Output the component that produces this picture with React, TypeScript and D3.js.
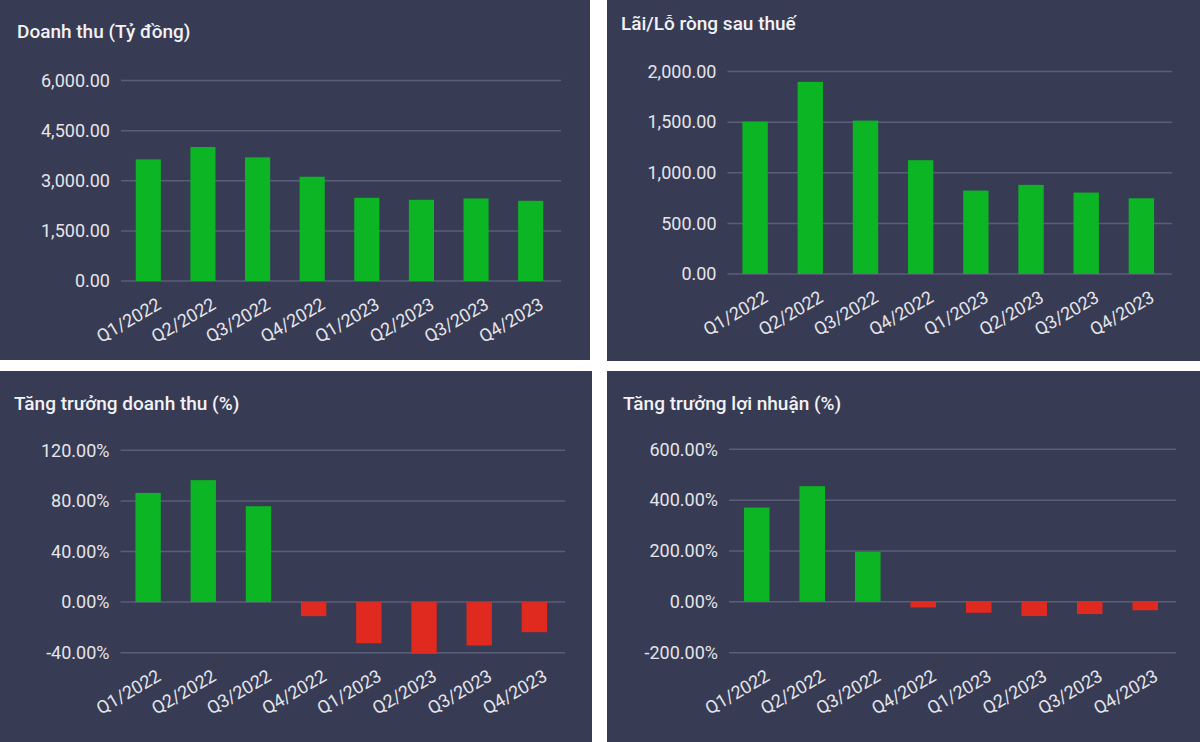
import { useRef, useEffect } from "react";
import * as d3 from "d3";

const quarters = ["Q1/2022", "Q2/2022", "Q3/2022", "Q4/2022", "Q1/2023", "Q2/2023", "Q3/2023", "Q4/2023"];

// Doanh thu (Tỷ đồng)
const revenue = [3640, 4010, 3700, 3120, 2490, 2430, 2470, 2400];
const revenueTicks = [0, 1500, 3000, 4500, 6000];

// Lãi/Lỗ ròng sau thuế
const netProfit = [1505, 1898, 1515, 1124, 824, 880, 804, 748];
const netProfitTicks = [0, 500, 1000, 1500, 2000];

// Tăng trưởng doanh thu (%)
const revenueGrowth = [86.3, 96.4, 75.8, -11.1, -32.5, -40.9, -34.3, -23.8];
const revenueGrowthTicks = [-40, 0, 40, 80, 120];

// Tăng trưởng lợi nhuận (%)
const profitGrowth = [371, 455, 197, -22, -43, -56, -48, -33];
const profitGrowthTicks = [-200, 0, 200, 400, 600];

const BG = "#383b54";
const GRID = "#5a5e78";
const GREEN = "#0bb523";
const RED = "#e02a1f";
const TEXT = "#e4e5ea";
const FONT = "Roboto, 'Noto Sans', sans-serif";

// d3 uses a unicode minus, the original shows a plain hyphen
const fmtNum = (v) => d3.format(",.2f")(v).replace("−", "-");
const fmtPct = (v) => d3.format(".2f")(v).replace("−", "-") + "%";

// panel boxes and plot areas (pixels)
const panels = [
  {
    title: "Doanh thu (Tỷ đồng)",
    values: revenue,
    ticks: revenueTicks,
    fmt: fmtNum,
    box: [0, 0, 590, 360],
    titlePos: [17, 38],
    xr: [121, 561],
    yr: [281, 80.5],
  },
  {
    title: "Lãi/Lỗ ròng sau thuế",
    values: netProfit,
    ticks: netProfitTicks,
    fmt: fmtNum,
    box: [607, 0, 593, 361],
    titlePos: [621, 30],
    xr: [727.5, 1172],
    yr: [274, 71.5],
  },
  {
    title: "Tăng trưởng doanh thu (%)",
    values: revenueGrowth,
    ticks: revenueGrowthTicks,
    fmt: fmtPct,
    box: [0, 371, 592, 371],
    titlePos: [14, 410],
    xr: [120.5, 565],
    yr: [652.7, 450.3],
  },
  {
    title: "Tăng trưởng lợi nhuận (%)",
    values: profitGrowth,
    ticks: profitGrowthTicks,
    fmt: fmtPct,
    box: [607, 371, 593, 371],
    titlePos: [623, 410],
    xr: [729, 1176],
    yr: [652.7, 449.3],
  },
];

const App = () => {
  const svgRef = useRef(null);

  useEffect(() => {
    const svg = d3.select(svgRef.current);
    svg.selectAll("*").remove();

    svg.append("rect").attr("width", 1200).attr("height", 742).attr("fill", "#ffffff");

    panels.forEach((p) => {
      const [bx, by, bw, bh] = p.box;
      svg.append("rect")
        .attr("x", bx).attr("y", by).attr("width", bw).attr("height", bh)
        .attr("fill", BG);

      svg.append("text")
        .attr("x", p.titlePos[0]).attr("y", p.titlePos[1])
        .style("font-family", FONT)
        .style("font-size", "19px")
        .style("font-weight", 500)
        .style("fill", "#f2f2f5")
        .text(p.title);

      const x = d3.scaleBand().domain(quarters).range([p.xr[0], p.xr[1] - 3]).paddingInner(0.54).paddingOuter(0.27);
      const y = d3.scaleLinear()
        .domain([p.ticks[0], p.ticks[p.ticks.length - 1]])
        .range(p.yr);

      const g = svg.append("g");

      // gridlines
      g.selectAll(".grid")
        .data(p.ticks)
        .enter()
        .append("line")
        .attr("x1", p.xr[0])
        .attr("x2", p.xr[1])
        .attr("y1", (d) => y(d))
        .attr("y2", (d) => y(d))
        .style("stroke", GRID)
        .style("stroke-width", 1.5);

      // y labels
      g.selectAll(".ylab")
        .data(p.ticks)
        .enter()
        .append("text")
        .attr("x", p.xr[0] - 11)
        .attr("y", (d) => y(d))
        .attr("dy", "0.35em")
        .style("text-anchor", "end")
        .style("font-family", FONT)
        .style("font-size", "18px")
        .style("fill", TEXT)
        .text((d) => p.fmt(d));

      // bars
      g.selectAll(".bar")
        .data(p.values)
        .enter()
        .append("rect")
        .attr("x", (d, i) => x(quarters[i]))
        .attr("width", x.bandwidth())
        .attr("y", (d) => y(Math.max(0, d)))
        .attr("height", (d) => Math.abs(y(d) - y(0)))
        .attr("fill", (d) => (d >= 0 ? GREEN : RED));

      // x labels
      const baseY = y(p.ticks[0]);
      g.selectAll(".xlab")
        .data(quarters)
        .enter()
        .append("text")
        .attr("transform", (d) => `translate(${x(d) + x.bandwidth() / 2 + 14},${baseY + 27}) rotate(-30)`)
        .style("text-anchor", "end")
        .style("font-family", FONT)
        .style("font-size", "18px")
        .style("fill", TEXT)
        .text((d) => d);
    });
  }, []);

  return (
    <div style={{ position: "absolute", left: 0, top: 0 }}>
      <svg ref={svgRef} width={1200} height={742}></svg>
    </div>
  );
};

export default App;
